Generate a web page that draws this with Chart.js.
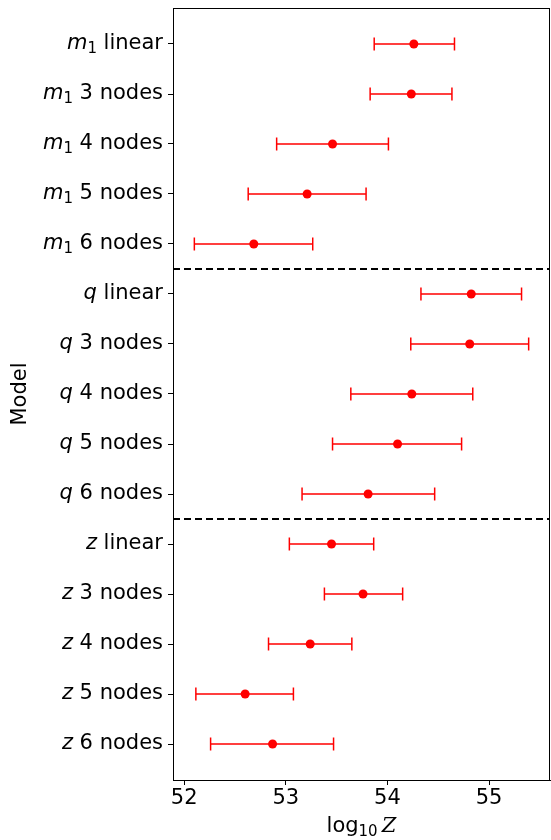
<!DOCTYPE html>
<html>
<head>
<meta charset="utf-8">
<script src="https://cdn.jsdelivr.net/npm/chart.js@4"></script>
<style>
  html, body { margin: 0; padding: 0; background: #fff; }
  #wrap { width: 551px; height: 840px; }
</style>
</head>
<body>
<div id="wrap"><canvas id="evidenceChart" width="551" height="840"></canvas></div>
<script>
// model labels: italic variable + plain suffix
var modelVar = ['m', 'm', 'm', 'm', 'm', 'q', 'q', 'q', 'q', 'q', 'z', 'z', 'z', 'z', 'z'];
var modelSub = ['1', '1', '1', '1', '1', '', '', '', '', '', '', '', '', '', ''];
var modelRest = ['linear', '3 nodes', '4 nodes', '5 nodes', '6 nodes',
                 'linear', '3 nodes', '4 nodes', '5 nodes', '6 nodes',
                 'linear', '3 nodes', '4 nodes', '5 nodes', '6 nodes'];

// log10 Z estimates with lower / upper error ends
var logZ    = [54.26, 54.235, 53.46, 53.21, 52.685, 54.825, 54.81, 54.24, 54.10, 53.81, 53.45, 53.76, 53.24, 52.60, 52.87];
var logZLow = [53.87, 53.83, 52.91, 52.63, 52.10, 54.33, 54.23, 53.64, 53.46, 53.16, 53.035, 53.38, 52.83, 52.115, 52.26];
var logZHigh = [54.66, 54.635, 54.01, 53.79, 53.265, 55.32, 55.39, 54.84, 54.73, 54.465, 53.865, 54.15, 53.65, 53.075, 53.47];

var xTicks = [52, 53, 54, 55];
var xMin = 51.89, xMax = 55.6;
var groupBreaks = [4.5, 9.5];

var FONT = "'DejaVu Sans', sans-serif";

var points = logZ.map(function (v, i) { return { x: v, y: i }; });
var bars = [];
logZ.forEach(function (v, i) {
  bars.push({ x: logZLow[i], y: i });
  bars.push({ x: logZHigh[i], y: i });
  bars.push({ x: null, y: null });
});
var breaks = [];
groupBreaks.forEach(function (b) {
  breaks.push({ x: xMin, y: b });
  breaks.push({ x: xMax, y: b });
  breaks.push({ x: null, y: null });
});

// draws a list of [text, font, dy] pieces one after another
function drawPieces(ctx, pieces, x, y, align) {
  var total = 0;
  pieces.forEach(function (p) { ctx.font = p[1]; p.w = ctx.measureText(p[0]).width; total += p.w; });
  var cx = align === 'right' ? x - total : (align === 'center' ? x - total / 2 : x);
  ctx.textAlign = 'left';
  pieces.forEach(function (p) {
    ctx.font = p[1];
    ctx.fillText(p[0], cx, y + (p[2] || 0));
    cx += p.w;
  });
}

var labelPlugin = {
  id: 'labelPlugin',
  afterDraw: function (chart) {
    var ctx = chart.ctx;
    var ys = chart.scales.y;
    var xs = chart.scales.x;
    var area = chart.chartArea;
    ctx.save();
    // frame
    ctx.strokeStyle = '#000';
    ctx.lineWidth = 1;
    ctx.strokeRect(area.left + 0.5, area.top + 0.5, area.right - area.left - 1, area.bottom - area.top);

    ctx.fillStyle = '#000';
    ctx.textBaseline = 'middle';
    // y tick labels
    modelVar.forEach(function (v, i) {
      var y = ys.getPixelForValue(i);
      var pieces = [[v, 'italic 21px ' + FONT, 0]];
      if (modelSub[i]) pieces.push([modelSub[i], '15px ' + FONT, 5]);
      pieces.push(['\u00a0' + modelRest[i], '21px ' + FONT, 0]);
      drawPieces(ctx, pieces, area.left - 10, y, 'right');
    });

    // x tick labels
    xTicks.forEach(function (t) {
      drawPieces(ctx, [[String(t), '21px ' + FONT, 0]], xs.getPixelForValue(t), 799, 'center');
    });

    // axis titles
    ctx.save();
    ctx.translate(21, (area.top + area.bottom) / 2);
    ctx.rotate(-Math.PI / 2);
    ctx.textAlign = 'center';
    ctx.font = '21px ' + FONT;
    ctx.fillText('Model', 0, 0);
    ctx.restore();

    ctx.textBaseline = 'alphabetic';
    drawPieces(ctx, [
      ['log', '21px ' + FONT, 0],
      ['10', '15px ' + FONT, 4],
      ['\u2009Z', 'italic 21px "DejaVu Serif", serif', 0]
    ], (area.left + area.right) / 2, 832, 'center');
    ctx.restore();
  }
};

var ctx = document.getElementById('evidenceChart').getContext('2d');
new Chart(ctx, {
  type: 'scatter',
  data: {
    datasets: [
      {
        data: breaks,
        showLine: true,
        spanGaps: false,
        borderColor: '#000',
        borderWidth: 2,
        borderDash: [7, 4],
        pointRadius: 0
      },
      {
        data: bars,
        showLine: true,
        spanGaps: false,
        borderColor: '#ff0000',
        borderWidth: 1.5,
        pointStyle: 'line',
        rotation: 90,
        pointRadius: 6.5,
        pointBorderWidth: 1.5,
        pointBorderColor: '#ff0000'
      },
      {
        data: points,
        showLine: false,
        backgroundColor: '#ff0000',
        borderColor: '#ff0000',
        pointRadius: 4.5,
        pointBorderWidth: 0
      }
    ]
  },
  options: {
    responsive: false,
    animation: false,
    layout: { autoPadding: false, padding: { top: 8, right: 1, left: 0, bottom: 0 } },
    plugins: { legend: { display: false }, tooltip: { enabled: false } },
    scales: {
      x: {
        type: 'linear',
        min: xMin,
        max: xMax,
        afterBuildTicks: function (scale) {
          scale.ticks = xTicks.map(function (v) { return { value: v }; });
        },
        afterFit: function (scale) { scale.height = 60; },
        grid: { drawOnChartArea: false, drawTicks: true, tickLength: 5, color: '#000' },
        border: { color: '#000', width: 1 },
        ticks: { display: false }
      },
      y: {
        type: 'linear',
        reverse: true,
        min: -0.72,
        max: 14.72,
        afterBuildTicks: function (scale) {
          scale.ticks = modelVar.map(function (v, i) { return { value: i }; });
        },
        afterFit: function (scale) { scale.width = 173; },
        grid: { drawOnChartArea: false, drawTicks: true, tickLength: 5, color: '#000' },
        border: { color: '#000', width: 1 },
        ticks: { display: false }
      }
    }
  },
  plugins: [labelPlugin]
});
</script>
</body>
</html>
